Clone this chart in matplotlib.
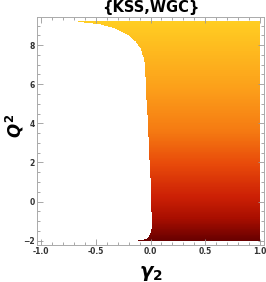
import numpy as np
import matplotlib
matplotlib.use('Agg')
from matplotlib import pyplot as plt
from matplotlib.colors import LinearSegmentedColormap
from matplotlib.ticker import MultipleLocator

# left edge of the allowed region (gamma_2 as a function of Q^2)
q2_edge = [-2.0, -1.95, -1.87, -1.71, -1.35, -0.8, 1.76, 5.19, 6.98, 7.4, 7.84, 8.17, 8.52, 8.86, 9.05, 9.2]
g_edge = [-0.114, -0.06, -0.024, -0.005, 0.01, 0.01, -0.005, -0.035, -0.05, -0.066, -0.092, -0.133, -0.206, -0.325, -0.45, -0.66]

g_range = [-1.0, 1.0]
q2_range = [-2.0, 9.2]
x_ticks = [-1.0, -0.5, 0.0, 0.5, 1.0]
y_ticks = [-2, 0, 2, 4, 6, 8]

plt.rcParams['mathtext.fontset'] = 'custom'
plt.rcParams['mathtext.it'] = 'DejaVu Sans:italic:bold'
plt.rcParams['mathtext.rm'] = 'DejaVu Sans:bold'
plt.rcParams['mathtext.bf'] = 'DejaVu Sans:bold'

cmap = LinearSegmentedColormap.from_list('sunset', [
    (0.0, '#690000'), (0.1, '#a80e00'), (0.2, '#cc2005'), (0.35, '#e84a0a'),
    (0.5, '#f57a12'), (0.7, '#fca01a'), (1.0, '#ffcd22')])

fig = plt.figure(figsize=(2.66, 2.82), dpi=100)
ax = fig.add_axes([36.7/266, 37/282, 227.6/266, 227.7/282])

# grid over the plot range, masked left of the boundary
g = np.linspace(g_range[0], g_range[1], 600)
q = np.linspace(q2_range[0], q2_range[1], 600)
G, Q = np.meshgrid(g, q)
edge = np.interp(Q, q2_edge, g_edge)
Z = np.ma.masked_where(G < edge, Q)
ax.pcolormesh(G, Q, Z, cmap=cmap, vmin=q2_range[0], vmax=q2_range[1], shading='auto', rasterized=True)

ax.set_xlim(g_range[0] - 0.04, g_range[1] + 0.04)
ax.set_ylim(q2_range[0] - 0.224, q2_range[1] + 0.224)

ax.set_xticks(x_ticks)
ax.set_xticklabels(['%.1f' % v for v in x_ticks])
ax.set_yticks(y_ticks)
ax.xaxis.set_minor_locator(MultipleLocator(0.1))
ax.yaxis.set_minor_locator(MultipleLocator(0.5))
ax.tick_params(which='both', direction='in', top=True, right=True, color='#999999', width=0.6)
ax.tick_params(which='major', length=4, labelsize=5.5, pad=1.5, labelcolor='#333333')
ax.tick_params(which='minor', length=2)
for lbl in ax.get_xticklabels() + ax.get_yticklabels():
    lbl.set_fontweight('bold')
for s in ax.spines.values():
    s.set_color('#aaaaaa')
    s.set_linewidth(0.7)

ax.set_title('{KSS,WGC}', fontsize=10.5, fontweight='bold', pad=4)
ax.set_xlabel(r'$\gamma_2$', fontsize=14, labelpad=6)
fig.text(15/266, 1 - 126/282, r'$Q^2$', fontsize=12, rotation=90, ha='center', va='center')

fig.savefig('out.png', dpi=100)
